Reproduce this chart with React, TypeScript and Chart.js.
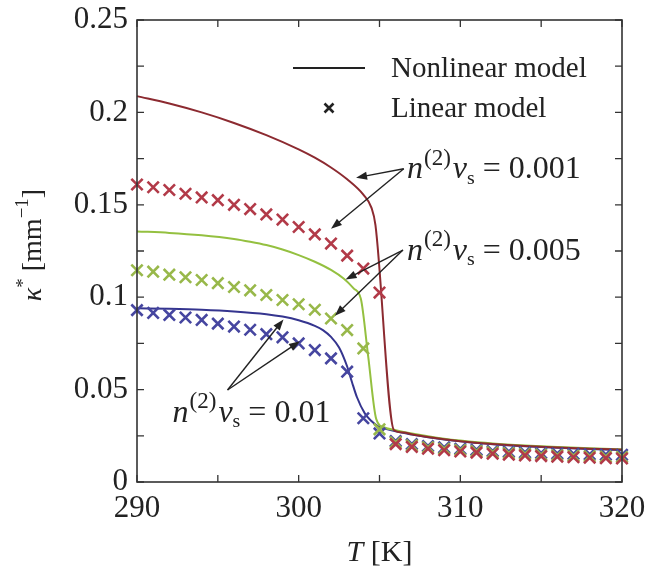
import React, { useEffect, useRef } from 'react';
import { Chart, registerables } from 'chart.js';

Chart.register(...registerables);

const FONT = '"Liberation Serif", "Times New Roman", Times, serif';

// Linear model (crosses), sampled every 1 K
const T_LINEAR = [290, 291, 292, 293, 294, 295, 296, 297, 298, 299, 300, 301, 302, 303, 304, 305, 306, 307, 308, 309, 310, 311, 312, 313, 314, 315, 316, 317, 318, 319, 320];
const K_LIN_001 = [0.161, 0.1595, 0.158, 0.156, 0.154, 0.1525, 0.150, 0.1477, 0.1448, 0.142, 0.138, 0.134, 0.129, 0.1225, 0.1155, 0.1025, 0.0205, 0.019, 0.018, 0.0172, 0.0165, 0.0159, 0.0153, 0.0148, 0.0144, 0.014, 0.0137, 0.0134, 0.0131, 0.0129, 0.0127];
const K_LIN_005 = [0.1146, 0.1138, 0.1122, 0.1108, 0.1093, 0.1076, 0.1055, 0.1037, 0.1012, 0.0985, 0.0962, 0.0932, 0.0885, 0.0822, 0.0723, 0.0285, 0.0215, 0.0198, 0.0188, 0.018, 0.0173, 0.0167, 0.0161, 0.0156, 0.0152, 0.0148, 0.0145, 0.0142, 0.0139, 0.0137, 0.0135];
const K_LIN_010 = [0.093, 0.0915, 0.0904, 0.089, 0.0877, 0.0857, 0.0841, 0.0824, 0.080, 0.0783, 0.075, 0.0714, 0.0669, 0.0597, 0.0345, 0.0263, 0.0222, 0.0205, 0.0195, 0.0187, 0.018, 0.0174, 0.0168, 0.0164, 0.016, 0.0157, 0.0154, 0.0152, 0.015, 0.0148, 0.0147];

// Nonlinear model (solid lines)
const T_NL_001 = [290, 292, 294, 296, 298, 300, 301, 302, 303, 304, 304.5, 304.75, 305.9, 306.5, 307, 308, 309, 310, 312, 314, 316, 318, 320];
const K_NL_001 = [0.2088, 0.2048, 0.200, 0.1943, 0.1877, 0.180, 0.1755, 0.1702, 0.1638, 0.1555, 0.1485, 0.139, 0.028, 0.0268, 0.0258, 0.0243, 0.0231, 0.0221, 0.0206, 0.0195, 0.0187, 0.018, 0.0175];
const T_NL_005 = [290, 292, 294, 296, 297, 298, 299, 300, 301, 302, 302.8, 303.4, 303.85, 304.3, 304.8, 305.3, 306, 307, 308, 309, 310, 312, 314, 316, 318, 320];
const K_NL_005 = [0.1356, 0.1348, 0.1335, 0.1315, 0.130, 0.1282, 0.1258, 0.1228, 0.1192, 0.1148, 0.110, 0.1048, 0.099, 0.068, 0.034, 0.0295, 0.028, 0.0262, 0.0247, 0.0234, 0.0224, 0.0208, 0.0197, 0.0189, 0.0182, 0.0177];
const T_NL_010 = [290, 292, 294, 296, 298, 299, 300, 301, 301.5, 302, 302.5, 303, 303.3, 303.6, 304.1, 304.5, 304.9, 305.5, 306, 307, 308, 309, 310, 312, 314, 316, 318, 320];
const K_NL_010 = [0.094, 0.0937, 0.0932, 0.0923, 0.0908, 0.0895, 0.0875, 0.0845, 0.0822, 0.0785, 0.0728, 0.0625, 0.054, 0.046, 0.037, 0.033, 0.0302, 0.0285, 0.0274, 0.0257, 0.0242, 0.023, 0.022, 0.0204, 0.0193, 0.0185, 0.0178, 0.0173];

const SERIES_VALUES = ['0.001', '0.005', '0.01'];
const LINE_COLORS = ['#8c2a30', '#94c040', '#35358f'];
const CROSS_COLORS = ['#b23a48', '#98b84a', '#4646a0'];

const X_TICK_LABELS = ['290', '300', '310', '320'];
const Y_TICK_LABELS = ['0', '0.05', '0.1', '0.15', '0.2', '0.25'];
const X_MINOR = [290, 295, 300, 305, 310, 315, 320];
const Y_MINOR = [0, 0.025, 0.05, 0.075, 0.1, 0.125, 0.15, 0.175, 0.2, 0.225, 0.25];
const LEGEND_LABELS = ['Nonlinear model', 'Linear model'];

// Annotation anchors in data coordinates: [T, kappa]
const ANNOT_TEXT = [[306.7, 0.1695], [306.7, 0.1255], [292.2, 0.0379]];
const ANNOT_ORIGIN = [[306.5, 0.1695], [306.45, 0.1255], [295.6, 0.0498]];
const ANNOT_TARGETS = [
  [[303.55, 0.1646], [302.0, 0.137]],
  [[302.9, 0.1096], [302.24, 0.0899]],
  [[299.06, 0.088], [300.08, 0.0762]],
];

const zip = (xs: number[], ys: number[]) => xs.map((x, i) => ({ x, y: ys[i] }));

function drawArrow(ctx: CanvasRenderingContext2D, x0: number, y0: number, x1: number, y1: number) {
  const ang = Math.atan2(y1 - y0, x1 - x0);
  const hl = 11, hw = 4;
  ctx.beginPath();
  ctx.moveTo(x0, y0);
  ctx.lineTo(x1 - Math.cos(ang) * hl * 0.8, y1 - Math.sin(ang) * hl * 0.8);
  ctx.stroke();
  ctx.beginPath();
  ctx.moveTo(x1, y1);
  ctx.lineTo(x1 - Math.cos(ang) * hl - Math.sin(ang) * hw, y1 - Math.sin(ang) * hl + Math.cos(ang) * hw);
  ctx.lineTo(x1 - Math.cos(ang) * hl + Math.sin(ang) * hw, y1 - Math.sin(ang) * hl - Math.cos(ang) * hw);
  ctx.closePath();
  ctx.fill();
}

function drawMath(ctx: CanvasRenderingContext2D, x: number, yMid: number, size: number, value: string) {
  const base = yMid + size * 0.3;
  ctx.textBaseline = 'alphabetic';
  ctx.textAlign = 'left';
  ctx.font = `italic ${size}px ${FONT}`;
  ctx.fillText('n', x, base);
  x += ctx.measureText('n').width + 1;
  ctx.font = `${size * 0.72}px ${FONT}`;
  ctx.fillText('(2)', x, base - size * 0.42);
  x += ctx.measureText('(2)').width + 2;
  ctx.font = `italic ${size}px ${FONT}`;
  ctx.fillText('v', x, base);
  x += ctx.measureText('v').width;
  ctx.font = `${size * 0.62}px ${FONT}`;
  ctx.fillText('s', x, base + size * 0.18);
  x += ctx.measureText('s').width;
  ctx.font = `${size}px ${FONT}`;
  ctx.fillText(' = ' + value, x, base);
}

const framePlugin = {
  id: 'frameAndNotes',
  afterDatasetsDraw(chart: any) {
    const { ctx, chartArea: a, scales } = chart;
    const xs = scales.x, ys = scales.y;
    ctx.save();
    // frame
    ctx.strokeStyle = '#333';
    ctx.lineWidth = 1.6;
    ctx.strokeRect(a.left, a.top, a.right - a.left, a.bottom - a.top);
    // inward ticks
    const tl = 7;
    ctx.lineWidth = 1.3;
    ctx.beginPath();
    X_MINOR.forEach((v) => {
      const px = xs.getPixelForValue(v);
      ctx.moveTo(px, a.bottom); ctx.lineTo(px, a.bottom - tl);
      ctx.moveTo(px, a.top); ctx.lineTo(px, a.top + tl);
    });
    Y_MINOR.forEach((v) => {
      const py = ys.getPixelForValue(v);
      ctx.moveTo(a.left, py); ctx.lineTo(a.left + tl, py);
      ctx.moveTo(a.right, py); ctx.lineTo(a.right - tl, py);
    });
    ctx.stroke();

    // legend
    ctx.fillStyle = '#222';
    ctx.strokeStyle = '#222';
    const lx0 = a.left + 156, lx1 = a.left + 228, ly0 = a.top + 48, ly1 = a.top + 88;
    ctx.lineWidth = 2.2;
    ctx.beginPath(); ctx.moveTo(lx0, ly0); ctx.lineTo(lx1, ly0); ctx.stroke();
    const cx = (lx0 + lx1) / 2, cr = 4.5;
    ctx.lineWidth = 2.6;
    ctx.beginPath();
    ctx.moveTo(cx - cr, ly1 - cr); ctx.lineTo(cx + cr, ly1 + cr);
    ctx.moveTo(cx + cr, ly1 - cr); ctx.lineTo(cx - cr, ly1 + cr);
    ctx.stroke();
    ctx.font = `29px ${FONT}`;
    ctx.textAlign = 'left';
    ctx.textBaseline = 'middle';
    ctx.fillText(LEGEND_LABELS[0], a.left + 254, ly0 + 1);
    ctx.fillText(LEGEND_LABELS[1], a.left + 254, ly1 + 1);

    // annotations
    ctx.lineWidth = 1.4;
    ANNOT_TEXT.forEach((t, i) => {
      const o = ANNOT_ORIGIN[i];
      const ox = xs.getPixelForValue(o[0]), oy = ys.getPixelForValue(o[1]);
      ANNOT_TARGETS[i].forEach((tg) => {
        drawArrow(ctx, ox, oy, xs.getPixelForValue(tg[0]), ys.getPixelForValue(tg[1]));
      });
      drawMath(ctx, xs.getPixelForValue(t[0]), ys.getPixelForValue(t[1]), 32, SERIES_VALUES[i]);
    });

    // axis titles
    ctx.fillStyle = '#222';
    ctx.textBaseline = 'alphabetic';
    ctx.textAlign = 'left';
    const xt = (a.left + a.right) / 2;
    ctx.font = `italic 30px ${FONT}`;
    const wT = ctx.measureText('T').width;
    ctx.font = `30px ${FONT}`;
    const wR = ctx.measureText(' [K]').width;
    const start = xt - (wT + wR) / 2;
    ctx.font = `italic 30px ${FONT}`;
    ctx.fillText('T', start, 561);
    ctx.font = `30px ${FONT}`;
    ctx.fillText(' [K]', start + wT, 561);

    // y title rotated
    ctx.save();
    ctx.translate(41, (a.top + a.bottom) / 2 - 6);
    ctx.rotate(-Math.PI / 2);
    const parts: [string, string, number][] = [
      ['κ', `italic 28px ${FONT}`, 0],
      ['*', `19px ${FONT}`, -12],
      [' [mm', `28px ${FONT}`, 0],
      ['−1', `19px ${FONT}`, -13],
      [']', `28px ${FONT}`, 0],
    ];
    let total = 0;
    parts.forEach(([s, f]) => { ctx.font = f; total += ctx.measureText(s).width; });
    let px = -total / 2;
    parts.forEach(([s, f, dy]) => {
      ctx.font = f;
      ctx.fillText(s, px, dy);
      px += ctx.measureText(s).width;
    });
    ctx.restore();

    ctx.restore();
  },
};

export default function App() {
  const canvasRef = useRef<HTMLCanvasElement | null>(null);

  useEffect(() => {
    const canvas = canvasRef.current;
    if (!canvas) return;
    const lineSets = [
      zip(T_NL_001, K_NL_001),
      zip(T_NL_005, K_NL_005),
      zip(T_NL_010, K_NL_010),
    ];
    const crossSets = [
      zip(T_LINEAR, K_LIN_001),
      zip(T_LINEAR, K_LIN_005),
      zip(T_LINEAR, K_LIN_010),
    ];
    const datasets: any[] = [];
    crossSets.forEach((d, i) => {
      datasets.push({
        label: 'Linear ' + SERIES_VALUES[i],
        data: d,
        showLine: false,
        pointStyle: 'crossRot',
        pointRadius: 8,
        pointBorderWidth: 2.6,
        borderColor: CROSS_COLORS[i],
        backgroundColor: CROSS_COLORS[i],
        clip: 12,
      });
    });
    lineSets.forEach((d, i) => {
      datasets.push({
        label: 'Nonlinear ' + SERIES_VALUES[i],
        data: d,
        showLine: true,
        pointRadius: 0,
        borderWidth: 2,
        borderColor: LINE_COLORS[i],
        backgroundColor: LINE_COLORS[i],
        cubicInterpolationMode: 'monotone',
        clip: 12,
      });
    });

    const chart = new Chart(canvas, {
      type: 'scatter',
      data: { datasets },
      options: {
        animation: false,
        responsive: false,
        maintainAspectRatio: false,
        layout: { padding: { left: 0, right: 24, top: 20, bottom: 0 } },
        plugins: { legend: { display: false }, tooltip: { enabled: false } },
        scales: {
          x: {
            type: 'linear',
            min: 290,
            max: 320,
            grid: { display: false, drawTicks: false },
            border: { display: false },
            ticks: {
              stepSize: 10,
              maxRotation: 0,
              autoSkip: false,
              padding: 8,
              color: '#222',
              font: { family: FONT, size: 31 },
              callback: (_v: any, i: number) => X_TICK_LABELS[i],
            },
            afterFit: (s: any) => { s.height = 88; s.paddingLeft = 0; s.paddingRight = 0; },
          },
          y: {
            type: 'linear',
            min: 0,
            max: 0.25,
            grid: { display: false, drawTicks: false },
            border: { display: false },
            ticks: {
              stepSize: 0.05,
              autoSkip: false,
              padding: 9,
              color: '#222',
              font: { family: FONT, size: 31 },
              callback: (_v: any, i: number) => Y_TICK_LABELS[i],
            },
            afterFit: (s: any) => { s.width = 137; s.paddingTop = 0; s.paddingBottom = 0; },
          },
        },
      },
      plugins: [framePlugin],
    });
    return () => chart.destroy();
  }, []);

  return (
    <div style={{ position: 'absolute', left: 0, top: 0, width: 646, height: 570, background: '#fff' }}>
      <canvas ref={canvasRef} width={646} height={570} />
    </div>
  );
}
